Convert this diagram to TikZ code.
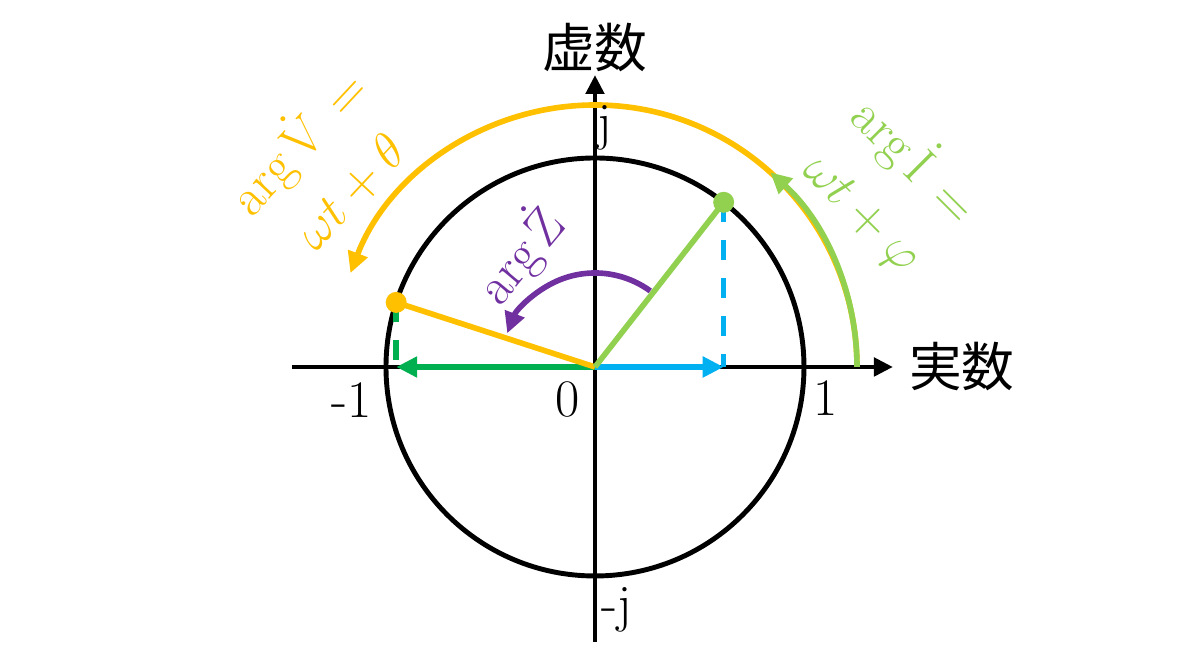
\documentclass[tikz,border=0pt]{standalone}
\usepackage{fontspec}
\newfontfamily\jpfont{Noto Sans CJK JP}
\usetikzlibrary{arrows.meta,calc}
\definecolor{argyellow}{RGB}{255,192,0}
\definecolor{arglime}{RGB}{146,208,80}
\definecolor{argblue}{RGB}{0,176,240}
\definecolor{arggreen}{RGB}{0,176,80}
\definecolor{argpurple}{RGB}{112,48,160}

\begin{document}
\begin{tikzpicture}[
    axis/.style={line width=1.4pt, -{Triangle[length=0.19cm, width=0.18cm]}},
    vec/.style={line width=1.6pt, -{Triangle[length=0.21cm, width=0.2cm]}},
    proj/.style={line width=1.6pt, dash pattern=on 0.2cm off 0.18cm},
    dot/.style={circle, inner sep=0pt, minimum size=0.21cm},
    label/.style={font=\fontsize{15}{20}\selectfont, inner sep=1pt},
    cjk/.style={font=\jpfont\fontsize{15}{18}\selectfont, inner sep=1pt}
]
\useasboundingbox (-5.95,-3.01) rectangle (6.05,3.67);
\def\R{2.09}
\def\Rb{2.62}

% points
\coordinate (O) at (0,0);
\coordinate (I) at (52:\R);
\coordinate (V) at (162:\R);
\coordinate (Ix) at ($(O)!(I)!(1,0)$);
\coordinate (Vx) at ($(O)!(V)!(1,0)$);

% axes and unit circle
\draw[line width=1.4pt] (O) circle (\R);
\draw[axis] (-3.03,0) coordinate (xl) -- (2.98,0) coordinate (xr);
\draw[axis] (0,-2.75) coordinate (yb) -- (0,2.92) coordinate (yt);

% projections
\draw[proj, argblue] (I) -- (Ix);
\draw[proj, arggreen] (V) -- (Vx);
\draw[vec, argblue] (O) -- (Ix);
\draw[vec, arggreen] (O) -- (Vx);

% phasors
\draw[line width=1.6pt, argyellow] (O) -- (V);
\draw[line width=1.6pt, arglime] (O) -- (I);
\node[dot, fill=argyellow] (Vdot) at (V) {};
\node[dot, fill=arglime] (Idot) at (I) {};

% angle arcs
\draw[vec, argyellow] (0:\Rb) arc[start angle=0, end angle=159, radius=\Rb];
\draw[vec, arglime] (0:\Rb) arc[start angle=0, end angle=48, radius=\Rb];
\draw[vec, argpurple] (54:0.94) arc[start angle=54, end angle=159, radius=0.94];

% axis labels
\node[cjk] (imag) at (0,3.19) {虚数};
\node[cjk] (real) at (3.67,0) {実数};
\node[label] (jp) at (0.10,2.39) {j};
\node[label] (jm) at (0.22,-2.43) {-j};
\node[label] (m1) at (-2.43,-0.33) {-1};
\node[label] (zero) at (-0.27,-0.33) {0};
\node[label] (p1) at (2.31,-0.31) {1};

% argument labels
\node[label, argyellow, rotate=47, align=center] (argV) at (-2.74,2.03)
    {$\arg\dot{\mathrm{V}}\,=$\\$\omega t+\theta$};
\node[label, arglime, rotate=-45, align=center] (argI) at (2.96,1.82)
    {$\arg\dot{\mathrm{I}}\,=$\\$\omega t+\varphi$};
\node[label, argpurple, rotate=50] (argZ) at (-0.75,1.12) {$\arg\dot{\mathrm{Z}}$};

\end{tikzpicture}
\end{document}
